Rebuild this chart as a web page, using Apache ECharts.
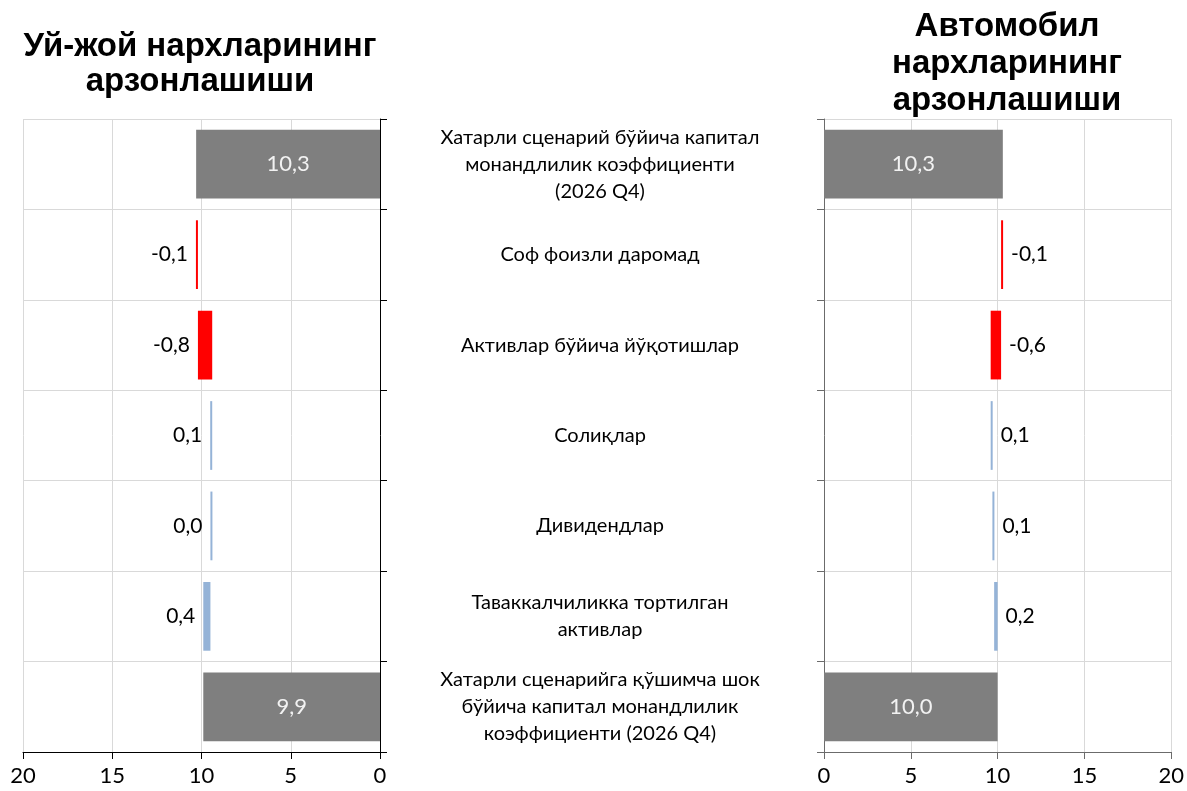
<!DOCTYPE html>
<html>
<head>
<meta charset="utf-8">
<title>Капитал монандлилик коэффициенти</title>
<script src="https://cdn.jsdelivr.net/npm/echarts@6/dist/echarts.min.js"></script>
<style>
  html, body { margin: 0; padding: 0; background: #fff; }
  #chart { width: 1187px; height: 791px; }
</style>
</head>
<body>
<div id="chart"></div>
<script>
// ---- данные ----
var CATEGORIES = [
  'Хатарли сценарий бўйича капитал\nмонандлилик коэффициенти\n(2026 Q4)',
  'Соф фоизли даромад',
  'Активлар бўйича йўқотишлар',
  'Солиқлар',
  'Дивидендлар',
  'Таваккалчиликка тортилган\nактивлар',
  'Хатарли сценарийга қўшимча шок\nбўйича капитал монандлилик\nкоэффициенти (2026 Q4)'
];
var IS_TOTAL = [true, false, false, false, false, false, true];
var HOUSING_VALUES = [10.3, -0.1, -0.8, 0.1, 0.0, 0.4, 9.9];
var AUTO_VALUES = [10.3, -0.1, -0.6, 0.1, 0.1, 0.2, 10.0];
var HOUSING_TITLE = 'Уй-жой нархларининг\nарзонлашиши';
var AUTO_TITLE = 'Автомобил\nнархларининг\nарзонлашиши';

var FONT = 'Lato, "Noto Sans", sans-serif';
var COLOR_TOTAL = '#7f7f7f';
var COLOR_DOWN = '#ff0000';
var COLOR_UP = '#95b3d7';
var GRID_COLOR = '#d9d9d9';

function fmt(v) {
  return v.toFixed(1).replace('.', ',');
}

// running total -> invisible base + visible piece
function waterfall(values) {
  var base = [], bar = [], run = 0;
  values.forEach(function(v, i) {
    if (IS_TOTAL[i]) {
      base.push(0); bar.push(v); run = v;
    } else {
      var next = run + v;
      base.push(Math.min(run, next)); bar.push(Math.abs(v)); run = next;
    }
  });
  return { base: base, bar: bar };
}

function buildSeries(values, idx, side) {
  var w = waterfall(values);
  var stack = 'wf' + idx;
  var items = w.bar.map(function(h, i) {
    var total = IS_TOTAL[i];
    var color = total ? COLOR_TOTAL : (values[i] < 0 ? COLOR_DOWN : COLOR_UP);
    return {
      value: h,
      itemStyle: { color: color },
      label: total
        ? { position: 'inside', color: '#f2f2f2', fontSize: 22 }
        : { position: side, color: '#000', distance: 8 }
    };
  });
  return [
    {
      type: 'bar', xAxisIndex: idx, yAxisIndex: idx, stack: stack,
      data: w.base, itemStyle: { color: 'transparent' },
      barCategoryGap: '24%', silent: true
    },
    {
      type: 'bar', xAxisIndex: idx, yAxisIndex: idx, stack: stack,
      data: items, barCategoryGap: '24%', barMinHeight: 2,
      label: {
        show: true, fontFamily: FONT, fontSize: 21,
        formatter: function(p) { return fmt(values[p.dataIndex]); }
      }
    }
  ];
}

function valueAxis(idx, inverse, lineColor) {
  return {
    type: 'value', gridIndex: idx, min: 0, max: 20, interval: 5, inverse: inverse,
    axisLine: { show: true, lineStyle: { color: lineColor } },
    axisTick: { show: true, length: 7, lineStyle: { color: lineColor } },
    axisLabel: { color: '#000', fontFamily: FONT, fontSize: 22, margin: 13 },
    splitLine: { show: true, lineStyle: { color: GRID_COLOR } }
  };
}

function categoryAxis(idx, position, lineColor, showLabels) {
  return {
    type: 'category', gridIndex: idx, data: CATEGORIES, inverse: true, position: position,
    axisLine: { show: true, onZero: false, lineStyle: { color: lineColor } },
    axisTick: { show: true, length: 7, lineStyle: { color: lineColor } },
    axisLabel: showLabels ? {
      show: true, align: 'center', margin: 224, color: '#000',
      fontFamily: FONT, fontSize: 20, lineHeight: 27
    } : { show: false },
    splitLine: { show: true, lineStyle: { color: GRID_COLOR } }
  };
}

function titleText(text, x, y, lh) {
  return {
    type: 'text', x: x, y: y,
    style: {
      text: text, align: 'center', verticalAlign: 'top',
      fontFamily: '"Liberation Sans", Arial, sans-serif', fontWeight: 'bold',
      fontSize: 33, lineHeight: lh, fill: '#000'
    }
  };
}

var chart = echarts.init(document.getElementById('chart'));
chart.setOption({
  animation: false,
  backgroundColor: '#fff',
  grid: [
    { left: 23, right: 807, top: 119, bottom: 39 },
    { left: 824, right: 13, top: 119, bottom: 39 }
  ],
  xAxis: [valueAxis(0, true, '#000'), valueAxis(1, false, '#6b6b6b')],
  yAxis: [categoryAxis(0, 'right', '#000', false), categoryAxis(1, 'left', '#6b6b6b', true)],
  series: buildSeries(HOUSING_VALUES, 0, 'left').concat(buildSeries(AUTO_VALUES, 1, 'right')),
  graphic: [
    titleText(HOUSING_TITLE, 200, 29, 35),
    titleText(AUTO_TITLE, 1007, 8, 37)
  ]
});
</script>
</body>
</html>
